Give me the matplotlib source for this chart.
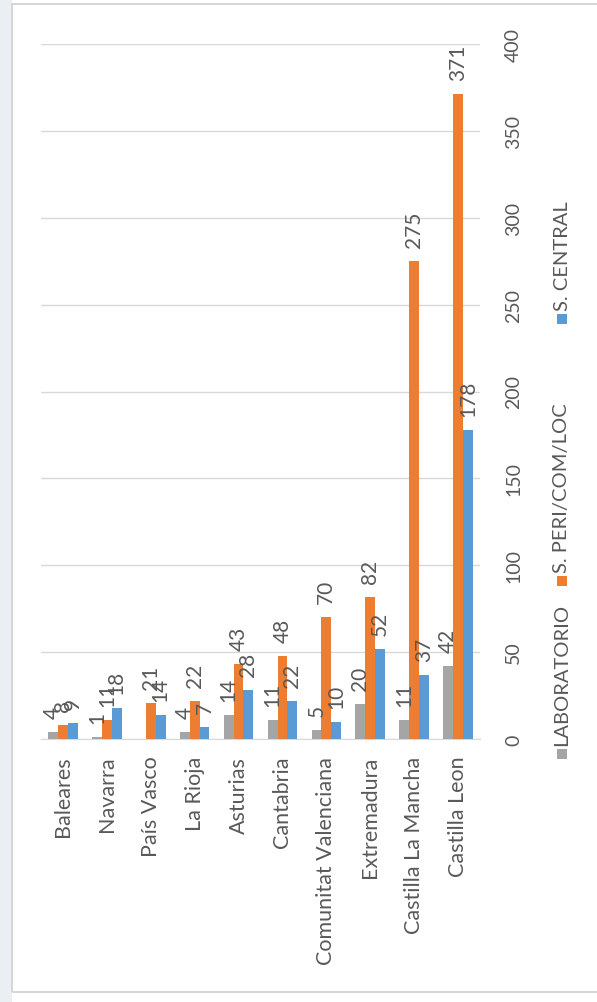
import numpy as np
import matplotlib
matplotlib.use("Agg")
import matplotlib.pyplot as plt
from matplotlib.patches import Rectangle

plt.rcParams['font.family'] = ['Lato', 'DejaVu Sans']

regiones = ["Baleares", "Navarra", "País Vasco", "La Rioja", "Asturias", "Cantabria",
            "Comunitat Valenciana", "Extremadura", "Castilla La Mancha", "Castilla Leon"]
laboratorio = [4, 1, 0, 4, 14, 11, 5, 20, 11, 42]
peri_com_loc = [8, 11, 21, 22, 43, 48, 70, 82, 275, 371]
central = [9, 18, 14, 7, 28, 22, 10, 52, 37, 178]
series = ["LABORATORIO", "S. PERI/COM/LOC", "S. CENTRAL"]
colores = ["#A5A5A5", "#ED7D31", "#5B9BD5"]
ticks_y = [0, 50, 100, 150, 200, 250, 300, 350, 400]

txt = "#595959"
W, H = 597, 1003
fig = plt.figure(figsize=(W / 100, H / 100), dpi=100)
fig.patch.set_facecolor("white")

# franja de fondo a la izquierda y marco del grafico
fig.add_artist(Rectangle((0, 0), 12 / W, 1, transform=fig.transFigure,
                         facecolor="#E9EFF3", edgecolor="none", zorder=0))
fig.add_artist(Rectangle((12 / W, 10 / H), 1.2, 1 - 15 / H, transform=fig.transFigure,
                         facecolor="none", edgecolor="#D0D0D0", lw=1.2, zorder=1))

ax = fig.add_axes([41 / W, 1 - 740 / H, 439 / W, 695 / H])
ax.set_facecolor("none")

x = np.arange(len(regiones))
bw = 0.225
datos = [laboratorio, peri_com_loc, central]
for i, (vals, col) in enumerate(zip(datos, colores)):
    pos = x + (i - 1) * bw
    ax.bar(pos, vals, width=bw, color=col, zorder=3)
    for p, v in zip(pos, vals):
        if v == 0:
            continue
        ax.text(p, v + 8, str(v), rotation=90, ha="center", va="bottom",
                fontsize=15, color=txt, zorder=4)

ax.set_xlim(-0.5, len(regiones) - 0.5)
ax.set_ylim(0, 400)
ax.set_yticks(ticks_y)
ax.yaxis.tick_right()
ax.set_yticklabels([str(t) for t in ticks_y], rotation=90, va="center",
                   fontsize=14, color=txt)
ax.tick_params(axis="y", length=0, pad=18)
ax.set_xticks(x)
ax.set_xticklabels(regiones, rotation=90, fontsize=15.5, color=txt)
ax.tick_params(axis="x", length=0, pad=12)
ax.grid(axis="y", color="#D9D9D9", lw=1, zorder=0)
for s in ["top", "right", "left"]:
    ax.spines[s].set_visible(False)
ax.spines["bottom"].set_color("#D9D9D9")

# leyenda vertical
ley_x = 562
ley_y = [760, 587, 325]
for nombre, col, yy in zip(series, colores, ley_y):
    fig.add_artist(Rectangle(((ley_x - 5) / W, 1 - yy / H), 10 / W, 10 / H,
                             transform=fig.transFigure, facecolor=col, edgecolor="none"))
    fig.text(ley_x / W, 1 - (yy - 14) / H, nombre, rotation=90, ha="center", va="bottom",
             fontsize=14.5, color=txt)

fig.savefig("out.png", dpi=100)
